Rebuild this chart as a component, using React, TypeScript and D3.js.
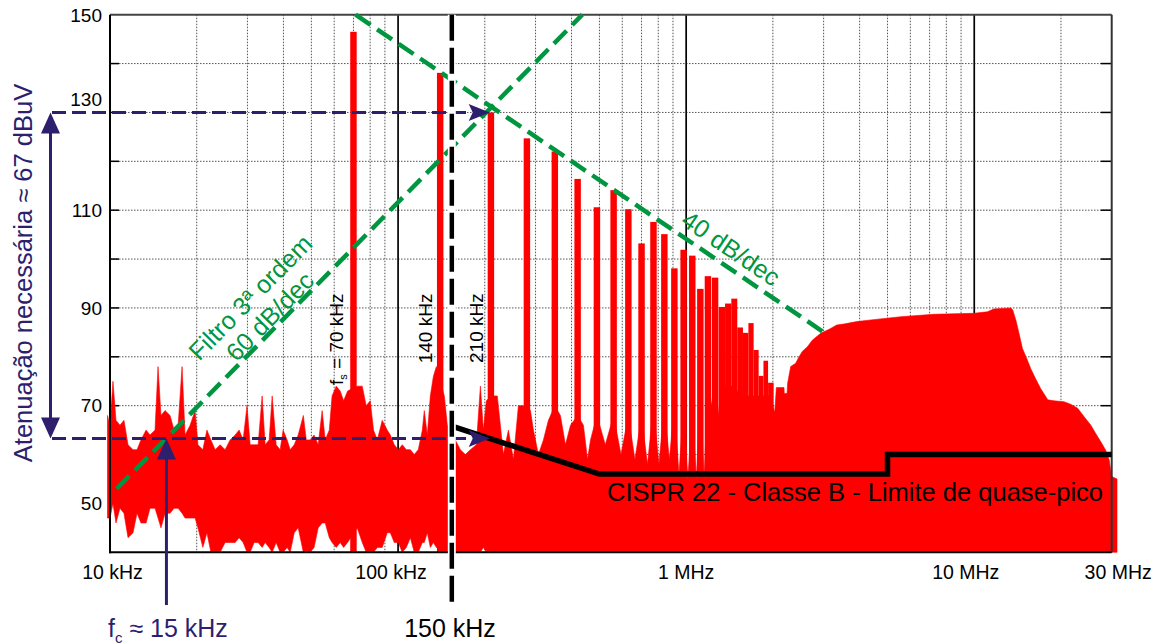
import React from "react";
import * as d3 from "d3";

// ---------------- data ----------------
// broadband noise below 200 kHz: [kHz, upper dB, lower dB]
const noiseSamples: [number, number, number][] = [
  [9.8, 68, 47], [10.0, 66, 47], [10.24, 75, 50], [10.49, 67, 46], [10.83, 66, 49],
  [11.18, 67, 48], [11.55, 62, 43], [12.02, 61, 44], [12.41, 61, 48], [12.81, 63, 46],
  [13.34, 65, 46], [13.77, 64, 49], [14.33, 65, 49], [14.68, 78, 47], [15.03, 68, 45],
  [15.53, 69, 48], [16.16, 68, 48], [16.69, 65, 49], [17.24, 66, 49], [17.79, 78, 48],
  [18.22, 64, 47], [18.97, 66, 47], [19.74, 69, 47], [20.2, 62, 45], [21.0, 61, 41],
  [21.7, 65, 44], [22.4, 63, 40], [23.17, 61, 40], [24.11, 62, 40], [25.1, 61, 42],
  [26.12, 63, 42], [27.19, 64, 42], [28.07, 65, 43], [28.98, 63, 42], [29.9, 70, 40],
  [30.65, 62, 40], [31.65, 62, 42], [32.67, 62, 42], [33.74, 72, 41], [34.56, 62, 42],
  [35.68, 63, 41], [36.55, 72, 40], [37.74, 62, 42], [38.96, 61, 40], [39.9, 65, 40],
  [41.2, 63, 41], [42.21, 61, 40], [43.6, 62, 44], [45.0, 64, 45], [46.9, 68, 40],
  [48.0, 63, 40], [49.5, 63, 40], [51.1, 64, 41], [52.8, 62, 45], [54.5, 69, 46],
  [55.85, 63, 46], [57.7, 65, 43], [59.0, 72, 42], [61.0, 74, 41], [62.97, 73, 42],
  [64.7, 71, 41], [66.8, 73, 42], [72.1, 74, 45], [75.1, 74, 42], [77.5, 70, 40],
  [80.05, 71, 40], [82.2, 65, 40], [84.7, 63, 41], [88.1, 67, 41], [91.7, 65, 44],
  [94.0, 64, 44], [97.0, 62, 42], [100.2, 61, 42], [103.4, 62, 40], [106.8, 61, 41],
  [110.3, 61, 43], [113.8, 60, 40], [117.5, 61, 40], [121.4, 65, 42], [123.3, 69, 42],
  [126.3, 64, 44], [129.4, 72, 41], [132.6, 76, 42], [135.8, 78, 41], [144.7, 72, 40],
  [148.3, 66, 40], [151.8, 66, 40], [158.0, 63, 40], [164.5, 61, 40], [171.2, 60, 40],
  [178.2, 61, 40], [186.9, 62, 40], [193.1, 74, 40], [197.7, 65, 41], [202.5, 71, 40],
];

// floor between the switching harmonics: [kHz, dB]
const floorSamples: [number, number][] = [
  [210, 72], [221, 72], [226.5, 66], [232, 60], [241.5, 65], [251.4, 59], [261.6, 70],
  [280, 70], [288, 69], [295, 65], [307, 60], [319.5, 63], [332.5, 67], [350, 70],
  [366, 68], [381, 62], [396.7, 66], [420, 68], [440, 66], [454.5, 59], [465.5, 63],
  [490, 68], [524, 62], [560, 68], [594, 60], [630, 68], [664, 59], [700, 68],
  [734, 58], [770, 70], [804, 58], [840, 70], [874, 59], [910, 70], [944, 56],
  [980, 70], [1014, 55], [1050, 70], [1084, 55], [1120, 72], [1154, 55], [1190, 74],
  [1224, 70], [1260, 76], [1295, 68], [1330, 74], [1470, 74], [1540, 72], [1750, 72],
  [1960, 72], [2030, 68.6],
];

// broadband hump above 2 MHz: [MHz, dB]
const humpSamples: [number, number][] = [
  [2.056, 73.7], [2.186, 73.7], [2.19, 72.5], [2.24, 72.5], [2.25, 74.6], [2.306, 78.0],
  [2.4, 78.7], [2.46, 79.9], [2.53, 81.1], [2.64, 82.1], [2.74, 83.4], [2.93, 84.8],
  [3.15, 85.7], [3.33, 86.5], [3.52, 86.7], [3.91, 87.2], [4.46, 87.6], [5.56, 88.2],
  [7.24, 88.7], [9.97, 88.9], [11.1, 89.2], [11.7, 89.8], [13.4, 90.0], [13.6, 89.6],
  [13.95, 87.5], [14.3, 84.8], [14.7, 81.7], [15.2, 79.7], [15.7, 77.6], [16.3, 75.6],
  [17.0, 73.5], [18.0, 71.2], [18.9, 71.0], [20.5, 70.8], [21.6, 70.3], [22.85, 69.5],
  [24.1, 67.7], [25.4, 66.0], [26.4, 64.3], [27.5, 62.6], [28.6, 60.9], [29.4, 58.9],
  [30.0, 55.5], [31.3, 55],
];

// switching harmonics (n x 70 kHz): [kHz, peak dB]
const harmonicSamples: [number, number][] = [
  [70, 146.5], [140, 138.1], [210, 130.0], [280, 124.7], [350, 122.0], [420, 116.4],
  [490, 110.6], [560, 114.1], [630, 110.2], [700, 103.2], [770, 107.6], [840, 105.1],
  [910, 98.1], [980, 101.9], [1050, 100.7], [1120, 93.9], [1190, 96.5], [1260, 96.2],
  [1330, 90.2], [1400, 90.9], [1470, 91.9], [1540, 86.0], [1610, 84.9], [1680, 86.9],
  [1750, 81.4], [1820, 76.1], [1890, 79.2], [1960, 74.7],
];

// CISPR 22 class B quasi-peak limit
const cisprKHz = [150, 500, 5000, 5000, 30000];
const cisprDb = [66, 56, 56, 60, 60];

// asymptote lines
const filterLineKHz = [10.55, 436];
const filterLineDb = [53, 150];
const envelopeLineKHz = [71.2, 3130];
const envelopeLineDb = [150, 84.3];

// annotations
const attenTopDb = 130;
const attenBottomDb = 63.3;
const fcKHz = 15.7;
const arrowTipKHz = 208;
const limitStartKHz = 150;

// axes
const yGridDb = [50, 60, 70, 80, 90, 100, 110, 120, 130, 140];
const yTickDb = [50, 70, 90, 110, 130, 150];
const xMajorHz = [1e5, 1e6, 1e7];
const xTickHz = [1e4, 1e5, 1e6, 1e7, 3e7];
const xTickLabels = ["10 kHz", "100 kHz", "1 MHz", "10 MHz", "30 MHz"];

// ---------------- styling ----------------
const W = 1164;
const H = 644;
const L = 110;
const R = 1111.7;
const T = 14.7;
const B = 552.3;
const FONT = "'Liberation Sans', Arial, Helvetica, sans-serif";
const NAVY = "#2d1f6e";
const GREEN = "#009640";
const RED = "#ff0000";
const BAR_HALF_DEC = 0.0112;
const xLabelNudge = [2.5, -7, 0, -8.5, 6.5];

type Pt = { f: number; hi: number; lo: number };

export default function App() {
  const x = d3.scaleLog().domain([1e4, 3e7]).range([L, R]);
  const y = d3.scaleLinear().domain([40, 150]).range([B, T]);

  const band: Pt[] = [
    ...noiseSamples.map(([k, hi, lo]) => ({ f: k * 1e3, hi, lo })),
    ...floorSamples.map(([k, hi]) => ({ f: k * 1e3, hi, lo: 40 })),
    ...humpSamples.map(([m, hi]) => ({ f: m * 1e6, hi, lo: 40 })),
  ];
  const areaGen = d3
    .area<Pt>()
    .x((d) => x(d.f))
    .y0((d) => y(d.lo))
    .y1((d) => y(d.hi));

  const bars = harmonicSamples.map(([k, db], i) => {
    const f = k * 1e3;
    let lf = f * Math.pow(10, -BAR_HALF_DEC);
    let rf = f * Math.pow(10, BAR_HALF_DEC);
    if (i > 0) lf = Math.max(lf, Math.sqrt(f * harmonicSamples[i - 1][0] * 1e3));
    if (i < harmonicSamples.length - 1)
      rf = Math.min(rf, Math.sqrt(f * harmonicSamples[i + 1][0] * 1e3));
    return { x0: x(lf), x1: x(rf), top: y(db) };
  });

  const lineGen = d3
    .line<[number, number]>()
    .x((d) => x(d[0]))
    .y((d) => y(d[1]));

  const cisprPts: [number, number][] = cisprKHz.map((k, i) => [k * 1e3, cisprDb[i]]);
  const filterPts: [number, number][] = filterLineKHz.map((k, i) => [k * 1e3, filterLineDb[i]]);
  const envPts: [number, number][] = envelopeLineKHz.map((k, i) => [k * 1e3, envelopeLineDb[i]]);

  const minorHz = x.ticks().filter((f) => {
    const m = f / Math.pow(10, Math.floor(Math.log10(f) + 1e-9));
    return Math.abs(m - 1) > 1e-6 && f < 2.99e7;
  });

  const yTop = y(attenTopDb);
  const yBot = y(attenBottomDb);
  const xTip = x(arrowTipKHz * 1e3);
  const xFc = x(fcKHz * 1e3);
  const xArrow = 50.5;
  const headL = 21;
  const headW = 9.5;
  const x150 = x(limitStartKHz * 1e3) + 3;

  return (
    <svg
      width={W}
      height={H}
      viewBox={`0 0 ${W} ${H}`}
      style={{ position: "absolute", left: 0, top: 0, background: "#fff" }}
      fontFamily={FONT}
    >
      <rect x={0} y={0} width={W} height={H} fill="#fff" />

      {/* grid */}
      <g stroke="#555" strokeWidth={1} strokeDasharray="1.5 1.5">
        {yGridDb.map((v) => (
          <line key={"gy" + v} x1={L} x2={R} y1={y(v)} y2={y(v)} />
        ))}
        {minorHz.map((f) => (
          <line key={"gx" + f} x1={x(f)} x2={x(f)} y1={T} y2={B} />
        ))}
      </g>
      <g stroke="#000" strokeWidth={1.7}>
        {xMajorHz.map((f) => (
          <line key={"mx" + f} x1={x(f)} x2={x(f)} y1={T} y2={B} />
        ))}
      </g>
      <g stroke="#000" strokeWidth={1.5}>
        {yGridDb.map((v) => (
          <line key={"tr" + v} x1={R - 11} x2={R} y1={y(v)} y2={y(v)} />
        ))}
        {yGridDb.map((v) => (
          <line key={"tl" + v} x1={L} x2={L + 9} y1={y(v)} y2={y(v)} />
        ))}
      </g>

      {/* spectrum */}
      <path d={areaGen(band) || ""} fill={RED} stroke={RED} strokeWidth={0.6} />
      {bars.map((b, i) => (
        <rect key={"b" + i} x={b.x0} width={b.x1 - b.x0} y={b.top} height={B - b.top} fill={RED} />
      ))}

      {/* frame */}
      <line x1={L} x2={R} y1={T} y2={T} stroke="#444" strokeWidth={2} />
      <line x1={R} x2={R} y1={T} y2={B} stroke="#333" strokeWidth={2} />
      <line x1={L} x2={L} y1={T} y2={B + 1} stroke="#000" strokeWidth={2} />
      <line x1={L - 1} x2={R} y1={B} y2={B} stroke="#000" strokeWidth={2} />

      {/* CISPR limit */}
      <path d={lineGen(cisprPts) || ""} fill="none" stroke="#000" strokeWidth={5.5} strokeLinejoin="miter" />

      {/* asymptotes */}
      <path d={lineGen(filterPts) || ""} fill="none" stroke={GREEN} strokeWidth={4.5} strokeDasharray="18 8" />
      <path d={lineGen(envPts) || ""} fill="none" stroke={GREEN} strokeWidth={4.5} strokeDasharray="18 8" />

      {/* navy attenuation annotation */}
      <g stroke={NAVY} strokeWidth={3} fill="none">
        <line x1={52} x2={xTip - headL + 2} y1={yTop} y2={yTop} strokeDasharray="14 6" />
        <line x1={52} x2={xTip - headL + 2} y1={yBot} y2={yBot} strokeDasharray="14 6" />
        <line x1={xArrow} x2={xArrow} y1={yTop + headL - 2} y2={yBot - headL + 2} />
        <line x1={xFc} x2={xFc} y1={605} y2={yBot + headL - 2} />
      </g>
      <g fill={NAVY}>
        <polygon points={`${xArrow},${yTop} ${xArrow - headW},${yTop + headL} ${xArrow + headW},${yTop + headL}`} />
        <polygon points={`${xArrow},${yBot} ${xArrow - headW},${yBot - headL} ${xArrow + headW},${yBot - headL}`} />
        <polygon points={`${xTip},${yTop} ${xTip - headL},${yTop - 8.5} ${xTip - headL + 4},${yTop} ${xTip - headL},${yTop + 8.5}`} />
        <polygon points={`${xTip},${yBot} ${xTip - headL},${yBot - 8.5} ${xTip - headL + 4},${yBot} ${xTip - headL},${yBot + 8.5}`} />
        <polygon points={`${xFc},${yBot} ${xFc - headW},${yBot + headL} ${xFc + headW},${yBot + headL}`} />
      </g>

      {/* 150 kHz boundary */}
      <line x1={x150} x2={x150} y1={T} y2={605} stroke="#fff" strokeWidth={8} />
      <line x1={x150} x2={x150} y1={T} y2={605} stroke="#000" strokeWidth={4.5} strokeDasharray="26 7" />

      {/* tick labels */}
      <g fontSize={19} fill="#000">
        {yTickDb.map((v) => (
          <text key={"yl" + v} x={102} y={y(v) + 6.8 - (v === 130 ? 13 : 0)} textAnchor="end">
            {v}
          </text>
        ))}
        {xTickHz.map((f, i) => (
          <text key={"xl" + f} x={x(f) + xLabelNudge[i]} y={578.5} textAnchor="middle" fontSize={19.5}>
            {xTickLabels[i]}
          </text>
        ))}
      </g>

      {/* annotation texts */}
      <text
        transform="translate(31.5,273) rotate(-90)"
        textAnchor="middle"
        fontSize={25.5}
        fill={NAVY}
      >
        Atenuação necessária ≈ 67 dBuV
      </text>
      <text x={108} y={636.5} fontSize={25} fill={NAVY}>
        f<tspan fontSize={15} dy={6}>c</tspan>
        <tspan dy={-6}> ≈ 15 kHz</tspan>
      </text>
      <text x={450} y={636.5} fontSize={25} textAnchor="middle" fill="#000">
        150 kHz
      </text>
      <text x={607} y={500.5} fontSize={25.5} fill="#000">
        CISPR 22 - Classe B - Limite de quase-pico
      </text>

      <g fontSize={19} fill="#000">
        <text transform="translate(343,385) rotate(-90)">
          f<tspan fontSize={11} dy={4}>s</tspan>
          <tspan dy={-4}> = 70 kHz</tspan>
        </text>
        <text transform="translate(432,363.3) rotate(-90)">140 kHz</text>
        <text transform="translate(482.5,363) rotate(-90)">210 kHz</text>
      </g>

      <g fontSize={25} fill={GREEN} textAnchor="middle">
        <text transform="translate(256.5,303.5) rotate(-45.5)">Filtro 3ª ordem</text>
        <text transform="translate(276,322.5) rotate(-45.5)">60 dB/dec</text>
        <text transform="translate(726,255.5) rotate(34.1)">40 dB/dec</text>
      </g>
    </svg>
  );
}
